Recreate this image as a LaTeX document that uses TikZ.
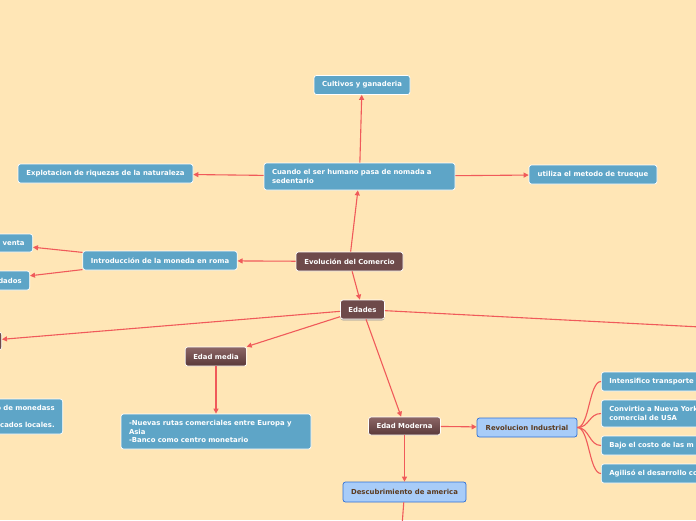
\documentclass[tikz,border=0pt]{standalone}
\usepackage{fontspec}
\setmainfont{DejaVu Sans}
\usetikzlibrary{arrows.meta,shadows}
\definecolor{bg}{HTML}{FFE6B6}
\definecolor{cblue}{HTML}{5EA5C7}
\definecolor{cbrown}{HTML}{6E4A4A}
\definecolor{cbrowntop}{HTML}{8C6666}
\definecolor{cbrownbot}{HTML}{5A3939}
\definecolor{cred}{HTML}{F05A5A}
\definecolor{lblue}{HTML}{A8CCF8}
\definecolor{lblueb}{HTML}{2E6FD6}
\definecolor{ltext}{HTML}{5B3A1E}
\newcommand\fs{\fontsize{6.9}{8.3}\selectfont\bfseries}
\tikzset{
  box/.style={rounded corners=2.5pt, draw=white, line width=0.7pt, font=\fs,
    inner xsep=8pt, inner ysep=0pt, minimum height=19pt},
  bluebox/.style={box, fill=cblue, text=white},
  brownflat/.style={box, fill=cbrown, text=white},
  browngrad/.style={box, top color=cbrowntop, bottom color=cbrownbot, text=white},
  lbluebox/.style={box, fill=lblue, draw=lblueb, text=ltext},
  arr/.style={draw=cred, line width=1.1pt, -{Triangle[length=5pt,width=5pt]}},
  fan/.style={draw=cred, line width=1.1pt},
}
\begin{document}
\begin{tikzpicture}[x=1pt,y=-1pt]
\useasboundingbox (0,0) rectangle (696,520);
\fill[bg] (0,0) rectangle (696,520);
\begin{scope}
\clip (0,0) rectangle (696,520);
% nodes
\node[bluebox, minimum width=96pt] (cult) at (362,85) {Cultivos y ganaderia};
\node[bluebox, text width=175pt, align=left, minimum height=27pt] (cuando) at (359.5,176.5) {Cuando el ser humano pasa de nomada a\\sedentario};
\node[bluebox, minimum width=175pt] (expl) at (105.5,173.5) {Explotacion de riquezas de la naturaleza};
\node[bluebox, minimum width=128pt] (trueque) at (593,174.5) {utiliza el metodo de trueque};
\node[brownflat, minimum width=107pt] (evo) at (349.5,261.5) {Evolución del Comercio};
\node[bluebox, minimum width=154pt] (intro) at (160,260.5) {Introducción de la moneda en roma};
\node[bluebox, text width=64pt, align=right, anchor=east, minimum height=18pt] (venta) at (33,243) {venta};
\node[bluebox, text width=64pt, align=right, anchor=east] (dados) at (30,280.5) {dados};
\node[brownflat, minimum width=43pt, drop shadow={shadow xshift=0pt, shadow yshift=-1.5pt, fill=black!40, opacity=0.6}] (edades) at (362.5,309.5) {Edades};
\node[brownflat, minimum width=40pt, minimum height=18pt, anchor=east] (leftb) at (2,341) {};
\node[browngrad, minimum width=60pt] (media) at (216,356.5) {Edad media};
\node[bluebox, text width=174pt, align=left, minimum height=35pt] (rutas) at (216,431.5) {-Nuevas rutas comerciales entre Europa y\\Asia\\-Banco como centro monetario};
\node[bluebox, text width=70pt, align=right, anchor=east, minimum height=35pt] (mon) at (63,416.5) {o de monedass\\[8.5pt]cados locales.\hspace{3pt}};
\node[browngrad, minimum width=71pt, minimum height=18pt] (moderna) at (404.5,426) {Edad Moderna};
\node[lbluebox, minimum width=100pt] (rev) at (527,427.5) {Revolucion Industrial};
\node[lbluebox, minimum width=123pt, minimum height=20pt] (desc) at (404.5,492) {Descubrimiento de america};
\node[bluebox, text width=150pt, align=left, anchor=west] (r1) at (601,381.5) {Intensifico transporte};
\node[bluebox, text width=150pt, align=left, anchor=west, minimum height=27pt] (r2) at (601,413.5) {Convirtio a Nueva York\\comercial de USA};
\node[bluebox, text width=150pt, align=left, anchor=west] (r3) at (601,445.5) {Bajo el costo de las m};
\node[bluebox, text width=150pt, align=left, anchor=west] (r4) at (601,473.5) {Agilisó el desarrollo co};
\coordinate (offR) at (720,328);
\coordinate (offD) at (401,540);
% connectors
\draw[arr] (evo) -- (cuando);
\draw[arr] (cuando) -- (cult);
\draw[arr] (cuando) -- (expl);
\draw[arr] (cuando) -- (trueque);
\draw[arr] (evo) -- (intro);
\draw[arr] (intro) -- (venta);
\draw[arr] (intro) -- (dados);
\draw[arr] (evo) -- (edades);
\draw[arr] (edades) -- (leftb);
\draw[arr] (edades) -- (media);
\draw[arr] (edades) -- (moderna);
\draw[arr] (edades) -- (offR);
\draw[arr] (media) -- (rutas);
\draw[arr] (moderna) -- (rev);
\draw[arr] (moderna) -- (desc);
\draw[arr] (desc) -- (offD);
\foreach \t in {r1,r2,r3,r4}
  \draw[fan] (rev.east) .. controls +(12,0) and +(-12,0) .. (\t.west);
\end{scope}
\end{tikzpicture}
\end{document}
